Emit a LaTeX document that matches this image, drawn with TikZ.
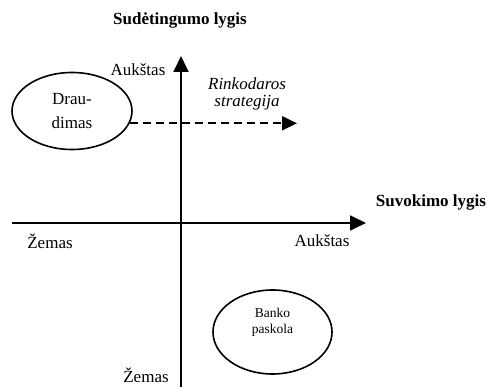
\documentclass[tikz,border=0pt]{standalone}
\usepackage{fontspec}
\setmainfont{Liberation Serif}
\usetikzlibrary{arrows.meta,shapes.geometric}
\tikzset{every picture/.style={line width=0.75pt}}
\tikzset{
  axis/.style={line width=1.8pt,-{Triangle[length=16pt,width=15pt]}},
  bubble/.style={draw,ellipse,line width=1.6pt,inner sep=0pt,align=center},
  lbl/.style={inner sep=0.75pt,font=\fontsize{17}{20}\selectfont}
}

\begin{document}
\begin{tikzpicture}[x=1pt,y=1pt,yscale=-1,xscale=1]
\useasboundingbox (0,0) rectangle (488,387);

%Axes
\coordinate (vbot) at (181,387);
\coordinate (vtop) at (181,56);
\coordinate (hleft) at (12,223);
\coordinate (hright) at (366,223);
\draw [axis] (vbot) -- (vtop);
\draw [axis] (hleft) -- (hright);

%Shape: Ellipse
\node [bubble,minimum width=120pt,minimum height=77pt,font=\fontsize{17}{24}\selectfont] (draudimas) at (72,111) {Drau-\\dimas};
%Shape: Ellipse
\node [bubble,minimum width=119pt,minimum height=84pt,font=\fontsize{13.5}{16}\selectfont] (banko) at (272.5,332) {Banko\\paskola\\[6pt]};

%Dashed arrow
\coordinate (strat) at (297,123);
\draw [line width=1.8pt,dash pattern=on 8pt off 5pt,-{Triangle[length=15pt,width=14pt]}] (draudimas.-12) -- (draudimas.-12 -| strat);

% Text Node
\node [lbl,font=\fontsize{17}{20}\selectfont\bfseries] (ylab) at (180,20) {Sudėtingumo lygis};
% Text Node
\node [lbl,font=\fontsize{17}{20}\selectfont\bfseries] (xlab) at (431,202) {Suvokimo lygis};
% Text Node
\node [lbl] (yhigh) at (138,70) {Aukštas};
% Text Node
\node [lbl] (ylow) at (146,375) {Žemas};
% Text Node
\node [lbl] (xlow) at (50,241) {Žemas};
% Text Node
\node [lbl] (xhigh) at (322,241) {Aukštas};
% Text Node
\node [lbl,align=center,font=\fontsize{17}{17}\selectfont\itshape] (rinko) at (247,94) {Rinkodaros\\strategija};
\end{tikzpicture}
\end{document}
